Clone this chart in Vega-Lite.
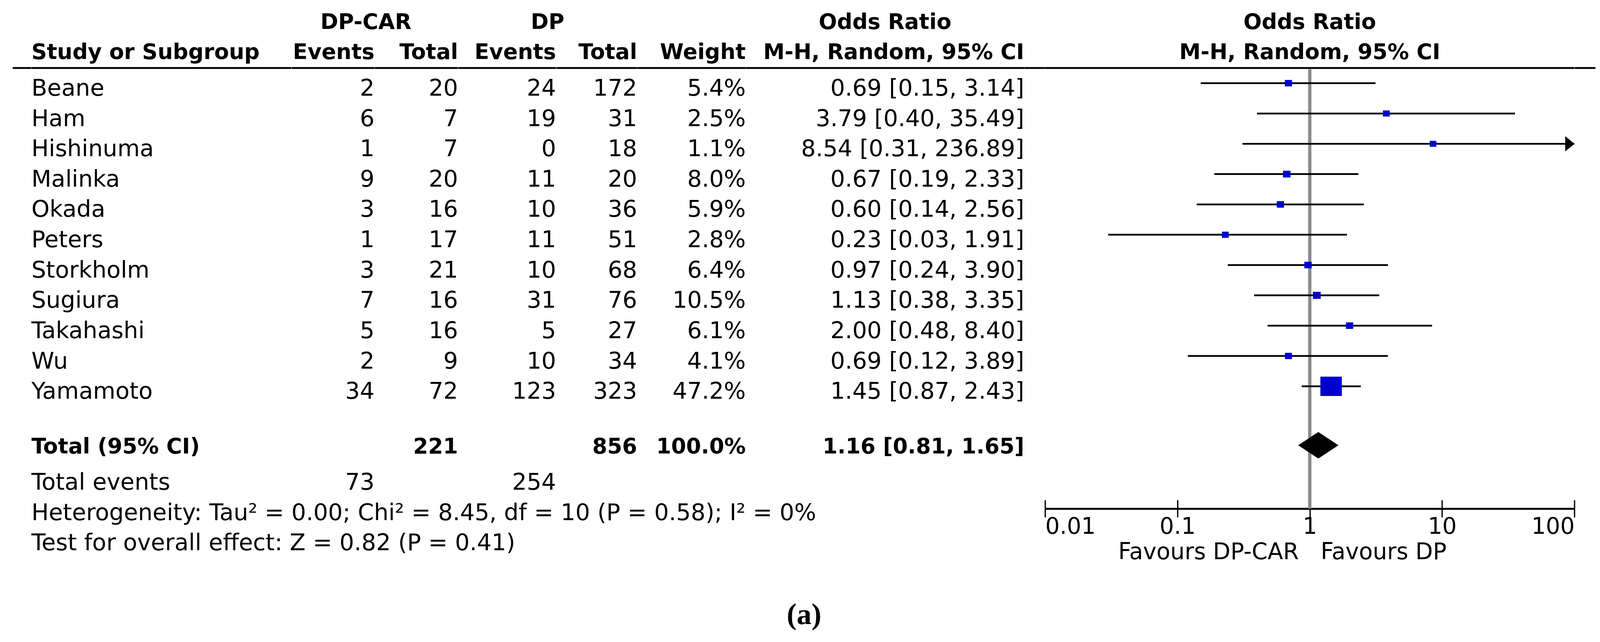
{
  "$schema": "https://vega.github.io/schema/vega-lite/v6.json",
  "background": "white",
  "bounds": "flush",
  "padding": {"left": 29.4, "top": 29, "right": 20, "bottom": 10},
  "title": {"text": "(a)", "orient": "bottom", "anchor": "middle", "font": "Liberation Serif", "fontSize": 76, "fontWeight": "bold", "color": "black", "offset": 94},
  "config": {
    "view": {"stroke": null},
    "concat": {"spacing": 0},
    "text": {"font": "DejaVu Sans", "fontSize": 59, "color": "black", "baseline": "middle"},
    "axis": {"labelFont": "DejaVu Sans", "grid": false}
  },
  "datasets": {
    "studies": [
      {"row": "Beane", "e1": 2, "n1": 20, "e2": 24, "n2": 172, "weight": 0.054, "or": 0.69, "lo": 0.15, "hi": 3.14, "or_label": "0.69 [0.15, 3.14]"},
      {"row": "Ham", "e1": 6, "n1": 7, "e2": 19, "n2": 31, "weight": 0.025, "or": 3.79, "lo": 0.40, "hi": 35.49, "or_label": "3.79 [0.40, 35.49]"},
      {"row": "Hishinuma", "e1": 1, "n1": 7, "e2": 0, "n2": 18, "weight": 0.011, "or": 8.54, "lo": 0.31, "hi": 236.89, "or_label": "8.54 [0.31, 236.89]"},
      {"row": "Malinka", "e1": 9, "n1": 20, "e2": 11, "n2": 20, "weight": 0.080, "or": 0.67, "lo": 0.19, "hi": 2.33, "or_label": "0.67 [0.19, 2.33]"},
      {"row": "Okada", "e1": 3, "n1": 16, "e2": 10, "n2": 36, "weight": 0.059, "or": 0.60, "lo": 0.14, "hi": 2.56, "or_label": "0.60 [0.14, 2.56]"},
      {"row": "Peters", "e1": 1, "n1": 17, "e2": 11, "n2": 51, "weight": 0.028, "or": 0.23, "lo": 0.03, "hi": 1.91, "or_label": "0.23 [0.03, 1.91]"},
      {"row": "Storkholm", "e1": 3, "n1": 21, "e2": 10, "n2": 68, "weight": 0.064, "or": 0.97, "lo": 0.24, "hi": 3.90, "or_label": "0.97 [0.24, 3.90]"},
      {"row": "Sugiura", "e1": 7, "n1": 16, "e2": 31, "n2": 76, "weight": 0.105, "or": 1.13, "lo": 0.38, "hi": 3.35, "or_label": "1.13 [0.38, 3.35]"},
      {"row": "Takahashi", "e1": 5, "n1": 16, "e2": 5, "n2": 27, "weight": 0.061, "or": 2.00, "lo": 0.48, "hi": 8.40, "or_label": "2.00 [0.48, 8.40]"},
      {"row": "Wu", "e1": 2, "n1": 9, "e2": 10, "n2": 34, "weight": 0.041, "or": 0.69, "lo": 0.12, "hi": 3.89, "or_label": "0.69 [0.12, 3.89]"},
      {"row": "Yamamoto", "e1": 34, "n1": 72, "e2": 123, "n2": 323, "weight": 0.472, "or": 1.45, "lo": 0.87, "hi": 2.43, "or_label": "1.45 [0.87, 2.43]"}
    ],
    "summary": [
      {"row": "total", "label": "Total (95% CI)", "n1": 221, "n2": 856, "weight": 1.0, "or": 1.16, "lo": 0.81, "hi": 1.65, "or_label": "1.16 [0.81, 1.65]"},
      {"row": "events", "label": "Total events", "e1": 73, "e2": 254},
      {"row": "het", "label": "Heterogeneity: Tau² = 0.00; Chi² = 8.45, df = 10 (P = 0.58); I² = 0%"},
      {"row": "test", "label": "Test for overall effect: Z = 0.82 (P = 0.41)"}
    ]
  },
  "hconcat": [
    {
      "width": 47.4, "height": 1397,
      "layer": [
        {"data": {"values": [{}]}, "mark": {"type": "rule", "strokeWidth": 4.7, "color": "black", "yOffset": -14},
         "encoding": {"y": {"datum": "Beane", "type": "nominal", "bandPosition": 0, "axis": null, "scale": {"type": "band", "domain": ["h1","h2","Beane","Ham","Hishinuma","Malinka","Okada","Peters","Storkholm","Sugiura","Takahashi","Wu","Yamamoto","gap","total","events","het","test"], "paddingInner": 0, "paddingOuter": 0}}}}
      ]
    },
    {
      "width": 665.3, "height": 1397,
      "layer": [
        {"data": {"values": [{}]}, "mark": {"type": "rule", "strokeWidth": 4.7, "color": "black", "yOffset": -14},
         "encoding": {"y": {"datum": "Beane", "type": "nominal", "bandPosition": 0, "axis": null, "scale": {"type": "band", "domain": ["h1","h2","Beane","Ham","Hishinuma","Malinka","Okada","Peters","Storkholm","Sugiura","Takahashi","Wu","Yamamoto","gap","total","events","het","test"], "paddingInner": 0, "paddingOuter": 0}}}},
        {"data": {"values": [{"row": "h2", "t": "Study or Subgroup"}]}, "mark": {"type": "text", "x": 0, "align": "left", "fontWeight": "bold", "fontSize": 55, "yOffset": -15},
         "encoding": {"y": {"field": "row", "type": "nominal", "axis": null, "scale": {"type": "band", "domain": ["h1","h2","Beane","Ham","Hishinuma","Malinka","Okada","Peters","Storkholm","Sugiura","Takahashi","Wu","Yamamoto","gap","total","events","het","test"], "paddingInner": 0, "paddingOuter": 0}}, "text": {"field": "t"}}},
        {"data": {"name": "studies"}, "mark": {"type": "text", "x": 0, "align": "left"},
         "encoding": {"y": {"field": "row", "type": "nominal", "axis": null, "scale": {"type": "band", "domain": ["h1","h2","Beane","Ham","Hishinuma","Malinka","Okada","Peters","Storkholm","Sugiura","Takahashi","Wu","Yamamoto","gap","total","events","het","test"], "paddingInner": 0, "paddingOuter": 0}}, "text": {"field": "row"}}},
        {"data": {"name": "summary"}, "transform": [{"filter": "datum.row === 'total'"}], "mark": {"type": "text", "x": 0, "align": "left", "fontWeight": "bold", "fontSize": 55, "yOffset": -14},
         "encoding": {"y": {"field": "row", "type": "nominal", "axis": null, "scale": {"type": "band", "domain": ["h1","h2","Beane","Ham","Hishinuma","Malinka","Okada","Peters","Storkholm","Sugiura","Takahashi","Wu","Yamamoto","gap","total","events","het","test"], "paddingInner": 0, "paddingOuter": 0}}, "text": {"field": "label"}}},
        {"data": {"name": "summary"}, "transform": [{"filter": "datum.row !== 'total'"}], "mark": {"type": "text", "x": 0, "align": "left"},
         "encoding": {"y": {"field": "row", "type": "nominal", "axis": null, "scale": {"type": "band", "domain": ["h1","h2","Beane","Ham","Hishinuma","Malinka","Okada","Peters","Storkholm","Sugiura","Takahashi","Wu","Yamamoto","gap","total","events","het","test"], "paddingInner": 0, "paddingOuter": 0}}, "text": {"field": "label"}}}
      ]
    },
    {
      "width": 212.3, "height": 1397,
      "layer": [
        {"data": {"values": [{}]}, "mark": {"type": "rule", "strokeWidth": 4.7, "color": "black", "yOffset": -14},
         "encoding": {"y": {"datum": "Beane", "type": "nominal", "bandPosition": 0, "axis": null, "scale": {"type": "band", "domain": ["h1","h2","Beane","Ham","Hishinuma","Malinka","Okada","Peters","Storkholm","Sugiura","Takahashi","Wu","Yamamoto","gap","total","events","het","test"], "paddingInner": 0, "paddingOuter": 0}}}},
        {"data": {"values": [{"row": "h1", "t": "DP-CAR"}]}, "mark": {"type": "text", "x": "width", "align": "center", "dx": -22, "fontWeight": "bold", "fontSize": 55, "yOffset": -15},
         "encoding": {"y": {"field": "row", "type": "nominal", "axis": null, "scale": {"type": "band", "domain": ["h1","h2","Beane","Ham","Hishinuma","Malinka","Okada","Peters","Storkholm","Sugiura","Takahashi","Wu","Yamamoto","gap","total","events","het","test"], "paddingInner": 0, "paddingOuter": 0}}, "text": {"field": "t"}}},
        {"data": {"values": [{"row": "h2", "t": "Events"}]}, "mark": {"type": "text", "x": "width", "align": "right", "fontWeight": "bold", "fontSize": 55, "yOffset": -15},
         "encoding": {"y": {"field": "row", "type": "nominal", "axis": null, "scale": {"type": "band", "domain": ["h1","h2","Beane","Ham","Hishinuma","Malinka","Okada","Peters","Storkholm","Sugiura","Takahashi","Wu","Yamamoto","gap","total","events","het","test"], "paddingInner": 0, "paddingOuter": 0}}, "text": {"field": "t"}}},
        {"data": {"name": "studies"}, "mark": {"type": "text", "x": "width", "align": "right"},
         "encoding": {"y": {"field": "row", "type": "nominal", "axis": null, "scale": {"type": "band", "domain": ["h1","h2","Beane","Ham","Hishinuma","Malinka","Okada","Peters","Storkholm","Sugiura","Takahashi","Wu","Yamamoto","gap","total","events","het","test"], "paddingInner": 0, "paddingOuter": 0}}, "text": {"field": "e1"}}},
        {"data": {"name": "summary"}, "transform": [{"filter": "datum.row === 'events'"}], "mark": {"type": "text", "x": "width", "align": "right"},
         "encoding": {"y": {"field": "row", "type": "nominal", "axis": null, "scale": {"type": "band", "domain": ["h1","h2","Beane","Ham","Hishinuma","Malinka","Okada","Peters","Storkholm","Sugiura","Takahashi","Wu","Yamamoto","gap","total","events","het","test"], "paddingInner": 0, "paddingOuter": 0}}, "text": {"field": "e1"}}}
      ]
    },
    {
      "width": 213.2, "height": 1397,
      "layer": [
        {"data": {"values": [{}]}, "mark": {"type": "rule", "strokeWidth": 4.7, "color": "black", "yOffset": -14},
         "encoding": {"y": {"datum": "Beane", "type": "nominal", "bandPosition": 0, "axis": null, "scale": {"type": "band", "domain": ["h1","h2","Beane","Ham","Hishinuma","Malinka","Okada","Peters","Storkholm","Sugiura","Takahashi","Wu","Yamamoto","gap","total","events","het","test"], "paddingInner": 0, "paddingOuter": 0}}}},
        {"data": {"values": [{"row": "h2", "t": "Total"}]}, "mark": {"type": "text", "x": "width", "align": "right", "fontWeight": "bold", "fontSize": 55, "yOffset": -15},
         "encoding": {"y": {"field": "row", "type": "nominal", "axis": null, "scale": {"type": "band", "domain": ["h1","h2","Beane","Ham","Hishinuma","Malinka","Okada","Peters","Storkholm","Sugiura","Takahashi","Wu","Yamamoto","gap","total","events","het","test"], "paddingInner": 0, "paddingOuter": 0}}, "text": {"field": "t"}}},
        {"data": {"name": "studies"}, "mark": {"type": "text", "x": "width", "align": "right"},
         "encoding": {"y": {"field": "row", "type": "nominal", "axis": null, "scale": {"type": "band", "domain": ["h1","h2","Beane","Ham","Hishinuma","Malinka","Okada","Peters","Storkholm","Sugiura","Takahashi","Wu","Yamamoto","gap","total","events","het","test"], "paddingInner": 0, "paddingOuter": 0}}, "text": {"field": "n1"}}},
        {"data": {"name": "summary"}, "transform": [{"filter": "datum.row === 'total'"}], "mark": {"type": "text", "x": "width", "align": "right", "fontWeight": "bold", "fontSize": 55, "yOffset": -14},
         "encoding": {"y": {"field": "row", "type": "nominal", "axis": null, "scale": {"type": "band", "domain": ["h1","h2","Beane","Ham","Hishinuma","Malinka","Okada","Peters","Storkholm","Sugiura","Takahashi","Wu","Yamamoto","gap","total","events","het","test"], "paddingInner": 0, "paddingOuter": 0}}, "text": {"field": "n1"}}}
      ]
    },
    {
      "width": 250.2, "height": 1397,
      "layer": [
        {"data": {"values": [{}]}, "mark": {"type": "rule", "strokeWidth": 4.7, "color": "black", "yOffset": -14},
         "encoding": {"y": {"datum": "Beane", "type": "nominal", "bandPosition": 0, "axis": null, "scale": {"type": "band", "domain": ["h1","h2","Beane","Ham","Hishinuma","Malinka","Okada","Peters","Storkholm","Sugiura","Takahashi","Wu","Yamamoto","gap","total","events","het","test"], "paddingInner": 0, "paddingOuter": 0}}}},
        {"data": {"values": [{"row": "h1", "t": "DP"}]}, "mark": {"type": "text", "x": "width", "align": "center", "dx": -22, "fontWeight": "bold", "fontSize": 55, "yOffset": -15},
         "encoding": {"y": {"field": "row", "type": "nominal", "axis": null, "scale": {"type": "band", "domain": ["h1","h2","Beane","Ham","Hishinuma","Malinka","Okada","Peters","Storkholm","Sugiura","Takahashi","Wu","Yamamoto","gap","total","events","het","test"], "paddingInner": 0, "paddingOuter": 0}}, "text": {"field": "t"}}},
        {"data": {"values": [{"row": "h2", "t": "Events"}]}, "mark": {"type": "text", "x": "width", "align": "right", "fontWeight": "bold", "fontSize": 55, "yOffset": -15},
         "encoding": {"y": {"field": "row", "type": "nominal", "axis": null, "scale": {"type": "band", "domain": ["h1","h2","Beane","Ham","Hishinuma","Malinka","Okada","Peters","Storkholm","Sugiura","Takahashi","Wu","Yamamoto","gap","total","events","het","test"], "paddingInner": 0, "paddingOuter": 0}}, "text": {"field": "t"}}},
        {"data": {"name": "studies"}, "mark": {"type": "text", "x": "width", "align": "right"},
         "encoding": {"y": {"field": "row", "type": "nominal", "axis": null, "scale": {"type": "band", "domain": ["h1","h2","Beane","Ham","Hishinuma","Malinka","Okada","Peters","Storkholm","Sugiura","Takahashi","Wu","Yamamoto","gap","total","events","het","test"], "paddingInner": 0, "paddingOuter": 0}}, "text": {"field": "e2"}}},
        {"data": {"name": "summary"}, "transform": [{"filter": "datum.row === 'events'"}], "mark": {"type": "text", "x": "width", "align": "right"},
         "encoding": {"y": {"field": "row", "type": "nominal", "axis": null, "scale": {"type": "band", "domain": ["h1","h2","Beane","Ham","Hishinuma","Malinka","Okada","Peters","Storkholm","Sugiura","Takahashi","Wu","Yamamoto","gap","total","events","het","test"], "paddingInner": 0, "paddingOuter": 0}}, "text": {"field": "e2"}}}
      ]
    },
    {
      "width": 206.6, "height": 1397,
      "layer": [
        {"data": {"values": [{}]}, "mark": {"type": "rule", "strokeWidth": 4.7, "color": "black", "yOffset": -14},
         "encoding": {"y": {"datum": "Beane", "type": "nominal", "bandPosition": 0, "axis": null, "scale": {"type": "band", "domain": ["h1","h2","Beane","Ham","Hishinuma","Malinka","Okada","Peters","Storkholm","Sugiura","Takahashi","Wu","Yamamoto","gap","total","events","het","test"], "paddingInner": 0, "paddingOuter": 0}}}},
        {"data": {"values": [{"row": "h2", "t": "Total"}]}, "mark": {"type": "text", "x": "width", "align": "right", "fontWeight": "bold", "fontSize": 55, "yOffset": -15},
         "encoding": {"y": {"field": "row", "type": "nominal", "axis": null, "scale": {"type": "band", "domain": ["h1","h2","Beane","Ham","Hishinuma","Malinka","Okada","Peters","Storkholm","Sugiura","Takahashi","Wu","Yamamoto","gap","total","events","het","test"], "paddingInner": 0, "paddingOuter": 0}}, "text": {"field": "t"}}},
        {"data": {"name": "studies"}, "mark": {"type": "text", "x": "width", "align": "right"},
         "encoding": {"y": {"field": "row", "type": "nominal", "axis": null, "scale": {"type": "band", "domain": ["h1","h2","Beane","Ham","Hishinuma","Malinka","Okada","Peters","Storkholm","Sugiura","Takahashi","Wu","Yamamoto","gap","total","events","het","test"], "paddingInner": 0, "paddingOuter": 0}}, "text": {"field": "n2"}}},
        {"data": {"name": "summary"}, "transform": [{"filter": "datum.row === 'total'"}], "mark": {"type": "text", "x": "width", "align": "right", "fontWeight": "bold", "fontSize": 55, "yOffset": -14},
         "encoding": {"y": {"field": "row", "type": "nominal", "axis": null, "scale": {"type": "band", "domain": ["h1","h2","Beane","Ham","Hishinuma","Malinka","Okada","Peters","Storkholm","Sugiura","Takahashi","Wu","Yamamoto","gap","total","events","het","test"], "paddingInner": 0, "paddingOuter": 0}}, "text": {"field": "n2"}}}
      ]
    },
    {
      "width": 277.7, "height": 1397,
      "layer": [
        {"data": {"values": [{}]}, "mark": {"type": "rule", "strokeWidth": 4.7, "color": "black", "yOffset": -14},
         "encoding": {"y": {"datum": "Beane", "type": "nominal", "bandPosition": 0, "axis": null, "scale": {"type": "band", "domain": ["h1","h2","Beane","Ham","Hishinuma","Malinka","Okada","Peters","Storkholm","Sugiura","Takahashi","Wu","Yamamoto","gap","total","events","het","test"], "paddingInner": 0, "paddingOuter": 0}}}},
        {"data": {"values": [{"row": "h2", "t": "Weight"}]}, "mark": {"type": "text", "x": "width", "align": "right", "fontWeight": "bold", "fontSize": 55, "yOffset": -15},
         "encoding": {"y": {"field": "row", "type": "nominal", "axis": null, "scale": {"type": "band", "domain": ["h1","h2","Beane","Ham","Hishinuma","Malinka","Okada","Peters","Storkholm","Sugiura","Takahashi","Wu","Yamamoto","gap","total","events","het","test"], "paddingInner": 0, "paddingOuter": 0}}, "text": {"field": "t"}}},
        {"data": {"name": "studies"}, "mark": {"type": "text", "x": "width", "align": "right"},
         "encoding": {"y": {"field": "row", "type": "nominal", "axis": null, "scale": {"type": "band", "domain": ["h1","h2","Beane","Ham","Hishinuma","Malinka","Okada","Peters","Storkholm","Sugiura","Takahashi","Wu","Yamamoto","gap","total","events","het","test"], "paddingInner": 0, "paddingOuter": 0}}, "text": {"field": "weight", "type": "quantitative", "format": ".1%"}}},
        {"data": {"name": "summary"}, "transform": [{"filter": "datum.row === 'total'"}], "mark": {"type": "text", "x": "width", "align": "right", "fontWeight": "bold", "fontSize": 55, "yOffset": -14},
         "encoding": {"y": {"field": "row", "type": "nominal", "axis": null, "scale": {"type": "band", "domain": ["h1","h2","Beane","Ham","Hishinuma","Malinka","Okada","Peters","Storkholm","Sugiura","Takahashi","Wu","Yamamoto","gap","total","events","het","test"], "paddingInner": 0, "paddingOuter": 0}}, "text": {"field": "weight", "type": "quantitative", "format": ".1%"}}}
      ]
    },
    {
      "width": 712.7, "height": 1397,
      "layer": [
        {"data": {"values": [{}]}, "mark": {"type": "rule", "strokeWidth": 4.7, "color": "black", "yOffset": -14},
         "encoding": {"y": {"datum": "Beane", "type": "nominal", "bandPosition": 0, "axis": null, "scale": {"type": "band", "domain": ["h1","h2","Beane","Ham","Hishinuma","Malinka","Okada","Peters","Storkholm","Sugiura","Takahashi","Wu","Yamamoto","gap","total","events","het","test"], "paddingInner": 0, "paddingOuter": 0}}}},
        {"data": {"values": [{"row": "h1", "t": "Odds Ratio"}]}, "mark": {"type": "text", "align": "center", "fontWeight": "bold", "fontSize": 55, "yOffset": -15},
         "encoding": {"y": {"field": "row", "type": "nominal", "axis": null, "scale": {"type": "band", "domain": ["h1","h2","Beane","Ham","Hishinuma","Malinka","Okada","Peters","Storkholm","Sugiura","Takahashi","Wu","Yamamoto","gap","total","events","het","test"], "paddingInner": 0, "paddingOuter": 0}}, "text": {"field": "t"}}},
        {"data": {"values": [{"row": "h2", "t": "M-H, Random, 95% CI"}]}, "mark": {"type": "text", "x": "width", "align": "right", "fontWeight": "bold", "fontSize": 55, "yOffset": -15},
         "encoding": {"y": {"field": "row", "type": "nominal", "axis": null, "scale": {"type": "band", "domain": ["h1","h2","Beane","Ham","Hishinuma","Malinka","Okada","Peters","Storkholm","Sugiura","Takahashi","Wu","Yamamoto","gap","total","events","het","test"], "paddingInner": 0, "paddingOuter": 0}}, "text": {"field": "t"}}},
        {"data": {"name": "studies"}, "mark": {"type": "text", "x": "width", "align": "right"},
         "encoding": {"y": {"field": "row", "type": "nominal", "axis": null, "scale": {"type": "band", "domain": ["h1","h2","Beane","Ham","Hishinuma","Malinka","Okada","Peters","Storkholm","Sugiura","Takahashi","Wu","Yamamoto","gap","total","events","het","test"], "paddingInner": 0, "paddingOuter": 0}}, "text": {"field": "or_label"}}},
        {"data": {"name": "summary"}, "transform": [{"filter": "datum.row === 'total'"}], "mark": {"type": "text", "x": "width", "align": "right", "fontWeight": "bold", "fontSize": 55, "yOffset": -14},
         "encoding": {"y": {"field": "row", "type": "nominal", "axis": null, "scale": {"type": "band", "domain": ["h1","h2","Beane","Ham","Hishinuma","Malinka","Okada","Peters","Storkholm","Sugiura","Takahashi","Wu","Yamamoto","gap","total","events","het","test"], "paddingInner": 0, "paddingOuter": 0}}, "text": {"field": "or_label"}}}
      ]
    },
    {
      "width": 53, "height": 1397,
      "layer": [
        {"data": {"values": [{}]}, "mark": {"type": "rule", "strokeWidth": 4.7, "color": "black", "yOffset": -14},
         "encoding": {"y": {"datum": "Beane", "type": "nominal", "bandPosition": 0, "axis": null, "scale": {"type": "band", "domain": ["h1","h2","Beane","Ham","Hishinuma","Malinka","Okada","Peters","Storkholm","Sugiura","Takahashi","Wu","Yamamoto","gap","total","events","het","test"], "paddingInner": 0, "paddingOuter": 0}}}}
      ]
    },
    {
      "width": 1355.2, "height": 1269.5,
      "resolve": {"axis": {"x": "independent"}},
      "layer": [
        {"data": {"values": [{}]}, "mark": {"type": "rule", "strokeWidth": 4.7, "color": "black", "yOffset": -14},
         "encoding": {"y": {"datum": "Beane", "type": "nominal", "bandPosition": 0, "axis": null, "scale": {"type": "band", "domain": ["h1","h2","Beane","Ham","Hishinuma","Malinka","Okada","Peters","Storkholm","Sugiura","Takahashi","Wu","Yamamoto","gap","total"], "paddingInner": 0, "paddingOuter": 0.6787, "align": 0}}}},
        {"data": {"values": [{}]}, "mark": {"type": "rule", "strokeWidth": 8.5, "color": "#8c8c8c", "yOffset": -11},
         "encoding": {
           "x": {"datum": 1, "type": "quantitative", "scale": {"type": "log", "domain": [0.01, 100], "clamp": true},
                 "axis": {"orient": "bottom", "values": [0.01, 0.1, 1, 10, 100], "labels": false, "domain": false, "ticks": true, "tickSize": 44, "tickWidth": 3.3, "tickColor": "black", "offset": -22, "grid": false, "title": null}},
           "y": {"datum": "Beane", "type": "nominal", "bandPosition": 0, "axis": null, "scale": {"type": "band", "domain": ["h1","h2","Beane","Ham","Hishinuma","Malinka","Okada","Peters","Storkholm","Sugiura","Takahashi","Wu","Yamamoto","gap","total"], "paddingInner": 0, "paddingOuter": 0.6787, "align": 0}},
           "y2": {"value": "height"}}},
        {"data": {"name": "studies"}, "mark": {"type": "rule", "strokeWidth": 4.5, "color": "black", "yOffset": -14},
         "encoding": {
           "x": {"field": "lo", "type": "quantitative", "scale": {"type": "log", "domain": [0.01, 100], "clamp": true},
                 "axis": {"orient": "bottom", "values": [0.01, 0.1, 1, 10, 100], "format": "~g", "labelFlush": true, "labelOverlap": false, "ticks": false, "domain": true, "domainColor": "black", "domainWidth": 5, "labelPadding": 18, "labelFontSize": 58, "labelColor": "black", "labelFont": "DejaVu Sans", "grid": false, "title": null}},
           "x2": {"field": "hi"},
           "y": {"field": "row", "type": "nominal", "axis": null, "scale": {"type": "band", "domain": ["h1","h2","Beane","Ham","Hishinuma","Malinka","Okada","Peters","Storkholm","Sugiura","Takahashi","Wu","Yamamoto","gap","total"], "paddingInner": 0, "paddingOuter": 0.6787, "align": 0}}}},
        {"data": {"name": "studies"}, "mark": {"type": "point", "filled": true, "opacity": 1, "color": "#0000CC", "strokeWidth": 0, "yOffset": -14, "shape": "M -1 -0.9 L 1 -0.9 L 1 0.9 L -1 0.9 Z"},
         "encoding": {
           "x": {"field": "or", "type": "quantitative", "scale": {"type": "log", "domain": [0.01, 100], "clamp": true}, "axis": null},
           "y": {"field": "row", "type": "nominal", "axis": null, "scale": {"type": "band", "domain": ["h1","h2","Beane","Ham","Hishinuma","Malinka","Okada","Peters","Storkholm","Sugiura","Takahashi","Wu","Yamamoto","gap","total"], "paddingInner": 0, "paddingOuter": 0.6787, "align": 0}},
           "size": {"field": "weight", "type": "quantitative", "scale": {"type": "linear", "domain": [0, 0.105, 0.472], "range": [270, 400, 3025]}, "legend": null}}},
        {"data": {"name": "studies"}, "transform": [{"filter": "datum.hi > 100"}], "mark": {"type": "point", "filled": true, "opacity": 1, "color": "black", "strokeWidth": 0, "size": 562, "yOffset": -14, "shape": "M -2 -1.645 L 0 0 L -2 1.645 Z"},
         "encoding": {
           "x": {"field": "hi", "type": "quantitative", "scale": {"type": "log", "domain": [0.01, 100], "clamp": true}, "axis": null},
           "y": {"field": "row", "type": "nominal", "axis": null, "scale": {"type": "band", "domain": ["h1","h2","Beane","Ham","Hishinuma","Malinka","Okada","Peters","Storkholm","Sugiura","Takahashi","Wu","Yamamoto","gap","total"], "paddingInner": 0, "paddingOuter": 0.6787, "align": 0}}}},
        {"data": {"name": "summary"}, "transform": [{"filter": "datum.row === 'total'"}], "mark": {"type": "point", "filled": true, "opacity": 1, "color": "black", "strokeWidth": 0, "size": 10609, "yOffset": -18, "shape": "M -1 0 L 0 -0.66 L 1 0 L 0 0.66 Z"},
         "encoding": {
           "x": {"field": "or", "type": "quantitative", "scale": {"type": "log", "domain": [0.01, 100], "clamp": true}, "axis": null},
           "y": {"field": "row", "type": "nominal", "axis": null, "scale": {"type": "band", "domain": ["h1","h2","Beane","Ham","Hishinuma","Malinka","Okada","Peters","Storkholm","Sugiura","Takahashi","Wu","Yamamoto","gap","total"], "paddingInner": 0, "paddingOuter": 0.6787, "align": 0}}}},
        {"data": {"values": [{"row": "h1", "t": "Odds Ratio"}, {"row": "h2", "t": "M-H, Random, 95% CI"}]}, "mark": {"type": "text", "align": "center", "fontWeight": "bold", "fontSize": 55, "yOffset": -15},
         "encoding": {
           "x": {"datum": 1, "type": "quantitative", "scale": {"type": "log", "domain": [0.01, 100], "clamp": true}, "axis": null},
           "y": {"field": "row", "type": "nominal", "axis": null, "scale": {"type": "band", "domain": ["h1","h2","Beane","Ham","Hishinuma","Malinka","Okada","Peters","Storkholm","Sugiura","Takahashi","Wu","Yamamoto","gap","total"], "paddingInner": 0, "paddingOuter": 0.6787, "align": 0}},
           "text": {"field": "t"}}},
        {"data": {"values": [{"t": "Favours DP-CAR"}]}, "mark": {"type": "text", "align": "right", "dx": -28, "y": "height", "dy": 113, "fontSize": 58},
         "encoding": {
           "x": {"datum": 1, "type": "quantitative", "scale": {"type": "log", "domain": [0.01, 100], "clamp": true}, "axis": null},
           "text": {"field": "t"}}},
        {"data": {"values": [{"t": "Favours DP"}]}, "mark": {"type": "text", "align": "left", "dx": 28, "y": "height", "dy": 113, "fontSize": 58},
         "encoding": {
           "x": {"datum": 1, "type": "quantitative", "scale": {"type": "log", "domain": [0.01, 100], "clamp": true}, "axis": null},
           "text": {"field": "t"}}}
      ]
    },
    {
      "width": 53, "height": 1397,
      "layer": [
        {"data": {"values": [{}]}, "mark": {"type": "rule", "strokeWidth": 4.7, "color": "black", "yOffset": -14},
         "encoding": {"y": {"datum": "Beane", "type": "nominal", "bandPosition": 0, "axis": null, "scale": {"type": "band", "domain": ["h1","h2","Beane","Ham","Hishinuma","Malinka","Okada","Peters","Storkholm","Sugiura","Takahashi","Wu","Yamamoto","gap","total","events","het","test"], "paddingInner": 0, "paddingOuter": 0}}}}
      ]
    }
  ]
}
